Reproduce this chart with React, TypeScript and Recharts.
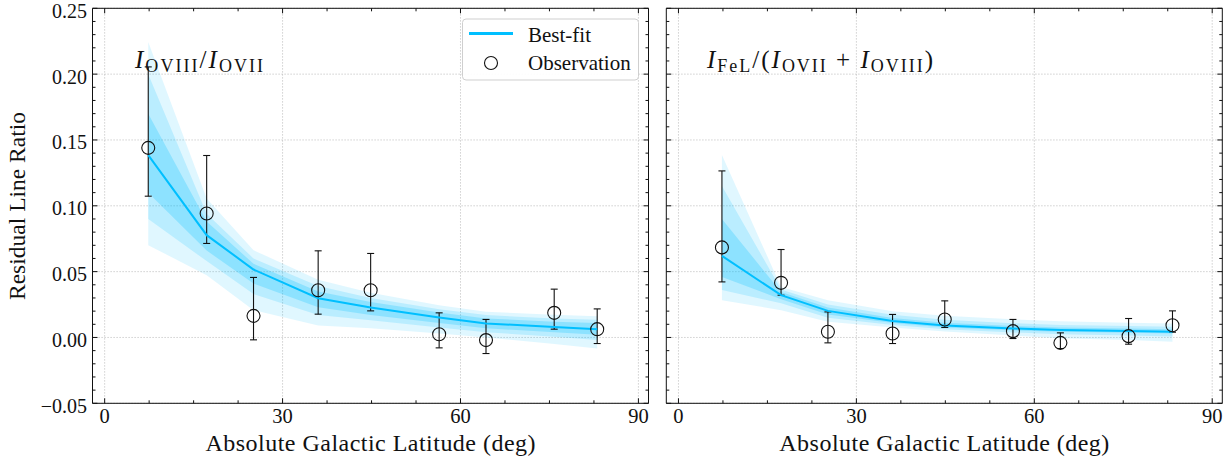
import React from 'react';
import { ComposedChart, XAxis, YAxis, Area, Line, Scatter, ErrorBar, CartesianGrid } from 'recharts';

const FONT = '"Liberation Serif", "Times New Roman", serif';
const BLUE = '#00bfff';
const INK = '#111111';

// ---- Left panel: I_OVIII / I_OVII ----
const LEFT_X = [7.35, 17.2, 25.1, 36.0, 44.85, 56.4, 64.3, 75.8, 83.05];
const LEFT_OBS = [0.144, 0.0942, 0.0164, 0.0359, 0.0359, 0.0025, -0.002, 0.0187, 0.0063];
const LEFT_OBS_LO = [0.1073, 0.0714, -0.0018, 0.0177, 0.0202, -0.0079, -0.0122, 0.0063, -0.0046];
const LEFT_OBS_HI = [0.2055, 0.1382, 0.0456, 0.0658, 0.0638, 0.0187, 0.0137, 0.0367, 0.0217];
const LEFT_FIT = [0.1385, 0.0777, 0.0516, 0.0298, 0.0228, 0.0152, 0.0106, 0.008, 0.0062];
const LEFT_OUTER_LO = [0.0701, 0.0473, 0.0207, 0.009, 0.007, 0.003, 0.0, -0.005, -0.0084];
const LEFT_OUTER_HI = [0.2245, 0.1055, 0.0663, 0.0438, 0.034, 0.0245, 0.0195, 0.0172, 0.0162];
const LEFT_MID_LO = [0.09, 0.058, 0.033, 0.017, 0.013, 0.0075, 0.004, 0.0005, -0.002];
const LEFT_MID_HI = [0.2, 0.094, 0.06, 0.039, 0.03, 0.0215, 0.017, 0.0145, 0.0135];
const LEFT_IN_LO = [0.11, 0.066, 0.041, 0.023, 0.017, 0.011, 0.007, 0.004, 0.002];
const LEFT_IN_HI = [0.17, 0.088, 0.056, 0.035, 0.027, 0.019, 0.0145, 0.012, 0.011];

// ---- Right panel: I_FeL / (I_OVII + I_OVIII) ----
const RIGHT_X = [7.33, 17.3, 25.2, 36.1, 44.9, 56.4, 64.4, 75.9, 83.3];
const RIGHT_OBS = [0.0684, 0.0415, 0.0043, 0.003, 0.0137, 0.0048, -0.0041, 0.001, 0.0093];
const RIGHT_OBS_LO = [0.0422, 0.0321, -0.0041, -0.0046, 0.0076, -0.0008, -0.0084, -0.0051, 0.004];
const RIGHT_OBS_HI = [0.1265, 0.0668, 0.0194, 0.0175, 0.0278, 0.0137, 0.0035, 0.0144, 0.0202];
const RIGHT_FIT = [0.062, 0.0321, 0.0202, 0.0125, 0.009, 0.0068, 0.0056, 0.005, 0.0043];
const RIGHT_OUTER_LO = [0.0283, 0.0207, 0.0119, 0.0075, 0.0045, 0.0015, -0.0005, -0.002, -0.0033];
const RIGHT_OUTER_HI = [0.1385, 0.0384, 0.0283, 0.02, 0.0165, 0.0138, 0.0123, 0.0112, 0.0106];
const RIGHT_MID_LO = [0.036, 0.026, 0.015, 0.0095, 0.0062, 0.0038, 0.0025, 0.0015, 0.0008];
const RIGHT_MID_HI = [0.115, 0.0365, 0.025, 0.0172, 0.0135, 0.0108, 0.0095, 0.0087, 0.0082];
const RIGHT_IN_LO = [0.046, 0.029, 0.0175, 0.011, 0.0076, 0.0054, 0.0043, 0.0036, 0.003];
const RIGHT_IN_HI = [0.09, 0.0345, 0.0228, 0.0148, 0.0112, 0.0088, 0.0075, 0.0068, 0.0062];

// ---- Axes ----
const X_DOMAIN = [-2.05, 91.7];
const Y_DOMAIN = [-0.05, 0.25];
const X_MAJOR = [0, 30, 60, 90];
const X_MAJOR_LABELS = ['0', '30', '60', '90'];
const X_MINOR = [7.5, 15, 22.5, 37.5, 45, 52.5, 67.5, 75, 82.5];
const Y_MAJOR = [-0.05, 0, 0.05, 0.1, 0.15, 0.2, 0.25];
const Y_MAJOR_LABELS = ['\u22120.05', '0.00', '0.05', '0.10', '0.15', '0.20', '0.25'];
const Y_MINOR = [
  -0.04, -0.03, -0.02, -0.01, 0.01, 0.02, 0.03, 0.04, 0.06, 0.07, 0.08, 0.09,
  0.11, 0.12, 0.13, 0.14, 0.16, 0.17, 0.18, 0.19, 0.21, 0.22, 0.23, 0.24,
];
const X_ALL = [...X_MAJOR, ...X_MINOR].sort((a, b) => a - b);
const Y_ALL = [...Y_MAJOR, ...Y_MINOR].sort((a, b) => a - b);

const MAJOR_LEN = 5;
const MINOR_LEN = 3;

const majorIndex = (v: number, majors: number[]) => majors.findIndex((m) => Math.abs(m - v) < 1e-9);

type Side = 'bottom' | 'top' | 'left' | 'right';

function makeTick(side: Side, showLabels: boolean) {
  return (props: any) => {
    const x = Number(props.x);
    const y = Number(props.y);
    const v = Number(props.payload?.value);
    const isX = side === 'bottom' || side === 'top';
    const idx = majorIndex(v, isX ? X_MAJOR : Y_MAJOR);
    const len = idx >= 0 ? MAJOR_LEN : MINOR_LEN;
    let line: React.ReactNode = null;
    if (side === 'bottom') line = <line x1={x} y1={y} x2={x} y2={y - len} stroke={INK} strokeWidth={1} />;
    if (side === 'top') line = <line x1={x} y1={y} x2={x} y2={y + len} stroke={INK} strokeWidth={1} />;
    if (side === 'left') line = <line x1={x} y1={y} x2={x + len} y2={y} stroke={INK} strokeWidth={1} />;
    if (side === 'right') line = <line x1={x} y1={y} x2={x - len} y2={y} stroke={INK} strokeWidth={1} />;
    let label: React.ReactNode = null;
    if (showLabels && idx >= 0) {
      if (side === 'bottom') {
        label = (
          <text x={x} y={y + 20} textAnchor="middle" fontFamily={FONT} fontSize={20.5} fill={INK}>
            {X_MAJOR_LABELS[idx]}
          </text>
        );
      } else if (side === 'left') {
        label = (
          <text x={x - 5.5} y={y + 9.5} textAnchor="end" fontFamily={FONT} fontSize={20} fill={INK}>
            {Y_MAJOR_LABELS[idx]}
          </text>
        );
      }
    }
    return (
      <g>
        {line}
        {label}
      </g>
    );
  };
}

const ObsMarker = (p: any) => (
  <circle cx={p.cx} cy={p.cy} r={6.5} fill="none" stroke={INK} strokeWidth={1.1} />
);

interface PanelProps {
  xs: number[];
  obs: number[];
  lo: number[];
  hi: number[];
  fit: number[];
  oLo: number[];
  oHi: number[];
  mLo: number[];
  mHi: number[];
  iLo: number[];
  iHi: number[];
  showYLabels: boolean;
  width: number;
  margin: { top: number; right: number; bottom: number; left: number };
}

function Panel(p: PanelProps) {
  const rows = p.xs.map((x, i) => ({
    x,
    fit: p.fit[i],
    obs: p.obs[i],
    err: [p.obs[i] - p.lo[i], p.hi[i] - p.obs[i]],
    outer: [p.oLo[i], p.oHi[i]],
    mid: [p.mLo[i], p.mHi[i]],
    inner: [p.iLo[i], p.iHi[i]],
  }));
  const axisLine = { stroke: INK, strokeWidth: 1 };
  // each axis gets a 1px box, so subtract it from the margin
  const m = {
    top: p.margin.top - 1,
    bottom: p.margin.bottom - 1,
    left: p.margin.left - 1,
    right: p.margin.right - 1,
  };
  return (
    <ComposedChart width={p.width} height={464} data={rows} margin={m}>
      <CartesianGrid
        xAxisId="b"
        yAxisId="l"
        verticalValues={X_MAJOR}
        horizontalValues={Y_MAJOR}
        stroke="#b5b5b5"
        strokeDasharray="1.2 1.8"
        strokeWidth={0.8}
      />
      <XAxis
        xAxisId="b"
        type="number"
        dataKey="x"
        domain={X_DOMAIN}
        allowDataOverflow
        ticks={X_ALL}
        interval={0}
        tickLine={false}
        tickSize={0}
        tickMargin={0}
        height={1}
        axisLine={axisLine}
        tick={makeTick('bottom', true)}
      />
      <XAxis
        xAxisId="t"
        orientation="top"
        type="number"
        dataKey="x"
        domain={X_DOMAIN}
        allowDataOverflow
        ticks={X_ALL}
        interval={0}
        tickLine={false}
        tickSize={0}
        tickMargin={0}
        height={1}
        axisLine={axisLine}
        tick={makeTick('top', false)}
      />
      <YAxis
        yAxisId="l"
        type="number"
        domain={Y_DOMAIN}
        allowDataOverflow
        ticks={Y_ALL}
        interval={0}
        tickLine={false}
        tickSize={0}
        tickMargin={0}
        width={1}
        axisLine={axisLine}
        tick={makeTick('left', p.showYLabels)}
      />
      <YAxis
        yAxisId="r"
        orientation="right"
        type="number"
        domain={Y_DOMAIN}
        allowDataOverflow
        ticks={Y_ALL}
        interval={0}
        tickLine={false}
        tickSize={0}
        tickMargin={0}
        width={1}
        axisLine={axisLine}
        tick={makeTick('right', false)}
      />
      <Scatter
        xAxisId="b"
        yAxisId="l"
        dataKey="obs"
        shape={ObsMarker}
        isAnimationActive={false}
      >
        <ErrorBar dataKey="err" direction="y" width={3.5} stroke={INK} strokeWidth={1.1} />
      </Scatter>
      <Area
        xAxisId="b"
        yAxisId="l"
        type="linear"
        dataKey="outer"
        stroke="none"
        fill={BLUE}
        fillOpacity={0.12}
        dot={false}
        activeDot={false}
        isAnimationActive={false}
      />
      <Area
        xAxisId="b"
        yAxisId="l"
        type="linear"
        dataKey="mid"
        stroke="none"
        fill={BLUE}
        fillOpacity={0.17}
        dot={false}
        activeDot={false}
        isAnimationActive={false}
      />
      <Area
        xAxisId="b"
        yAxisId="l"
        type="linear"
        dataKey="inner"
        stroke="none"
        fill={BLUE}
        fillOpacity={0.24}
        dot={false}
        activeDot={false}
        isAnimationActive={false}
      />
      <Line
        xAxisId="b"
        yAxisId="l"
        type="linear"
        dataKey="fit"
        stroke={BLUE}
        strokeWidth={2}
        dot={false}
        activeDot={false}
        isAnimationActive={false}
      />
    </ComposedChart>
  );
}

export default function App() {
  return (
    <div style={{ position: 'absolute', left: 0, top: 0, width: 1232, height: 464, background: '#fff', overflow: 'hidden' }}>
      <div style={{ position: 'absolute', left: 0, top: 0 }}>
        <Panel
          xs={LEFT_X}
          obs={LEFT_OBS}
          lo={LEFT_OBS_LO}
          hi={LEFT_OBS_HI}
          fit={LEFT_FIT}
          oLo={LEFT_OUTER_LO}
          oHi={LEFT_OUTER_HI}
          mLo={LEFT_MID_LO}
          mHi={LEFT_MID_HI}
          iLo={LEFT_IN_LO}
          iHi={LEFT_IN_HI}
          showYLabels={true}
          width={660}
          margin={{ top: 8.3, bottom: 60.7, left: 92.5, right: 11.5 }}
        />
      </div>
      <div style={{ position: 'absolute', left: 654, top: 0 }}>
        <Panel
          xs={RIGHT_X}
          obs={RIGHT_OBS}
          lo={RIGHT_OBS_LO}
          hi={RIGHT_OBS_HI}
          fit={RIGHT_FIT}
          oLo={RIGHT_OUTER_LO}
          oHi={RIGHT_OUTER_HI}
          mLo={RIGHT_MID_LO}
          mHi={RIGHT_MID_HI}
          iLo={RIGHT_IN_LO}
          iHi={RIGHT_IN_HI}
          showYLabels={false}
          width={578}
          margin={{ top: 8.3, bottom: 60.7, left: 12.3, right: 9.7 }}
        />
      </div>
      <svg
        width={1232}
        height={464}
        style={{ position: 'absolute', left: 0, top: 0, pointerEvents: 'none' }}
        fontFamily={FONT}
      >
        <text transform="translate(25,206) rotate(-90)" textAnchor="middle" fontSize={23.5} fill={INK}>
          Residual Line Ratio
        </text>
        <text x={370.5} y={451} textAnchor="middle" fontSize={24} fill={INK} textLength={330} lengthAdjust="spacing">
          Absolute Galactic Latitude (deg)
        </text>
        <text x={944.3} y={451} textAnchor="middle" fontSize={24} fill={INK} textLength={330} lengthAdjust="spacing">
          Absolute Galactic Latitude (deg)
        </text>
        <text x={135} y={68.3} fontSize={25} fill={INK} textLength={128} lengthAdjust="spacing">
          <tspan fontStyle="italic">I</tspan>
          <tspan fontSize={18} dy={4}>OVIII</tspan>
          <tspan dy={-4}>/</tspan>
          <tspan fontStyle="italic">I</tspan>
          <tspan fontSize={18} dy={4}>OVII</tspan>
        </text>
        <text x={707} y={68.3} fontSize={25} fill={INK} textLength={226} lengthAdjust="spacing">
          <tspan fontStyle="italic">I</tspan>
          <tspan fontSize={18} dy={4}>FeL</tspan>
          <tspan dy={-4}>/(</tspan>
          <tspan fontStyle="italic">I</tspan>
          <tspan fontSize={18} dy={4}>OVII</tspan>
          <tspan dy={-4}>{' + '}</tspan>
          <tspan fontStyle="italic">I</tspan>
          <tspan fontSize={18} dy={4}>OVIII</tspan>
          <tspan dy={-4}>)</tspan>
        </text>
        <rect x={462.5} y={19} width={176} height={61} rx={3.5} fill="#fff" fillOpacity={0.92} stroke="#cfcfcf" strokeWidth={1} />
        <line x1={469} y1={33.5} x2={513} y2={33.5} stroke={BLUE} strokeWidth={3} />
        <text x={528} y={41.5} fontSize={21} fill={INK}>Best-fit</text>
        <circle cx={491} cy={63} r={6.5} fill="none" stroke={INK} strokeWidth={1.1} />
        <text x={528} y={69.5} fontSize={21} fill={INK}>Observation</text>
      </svg>
    </div>
  );
}
